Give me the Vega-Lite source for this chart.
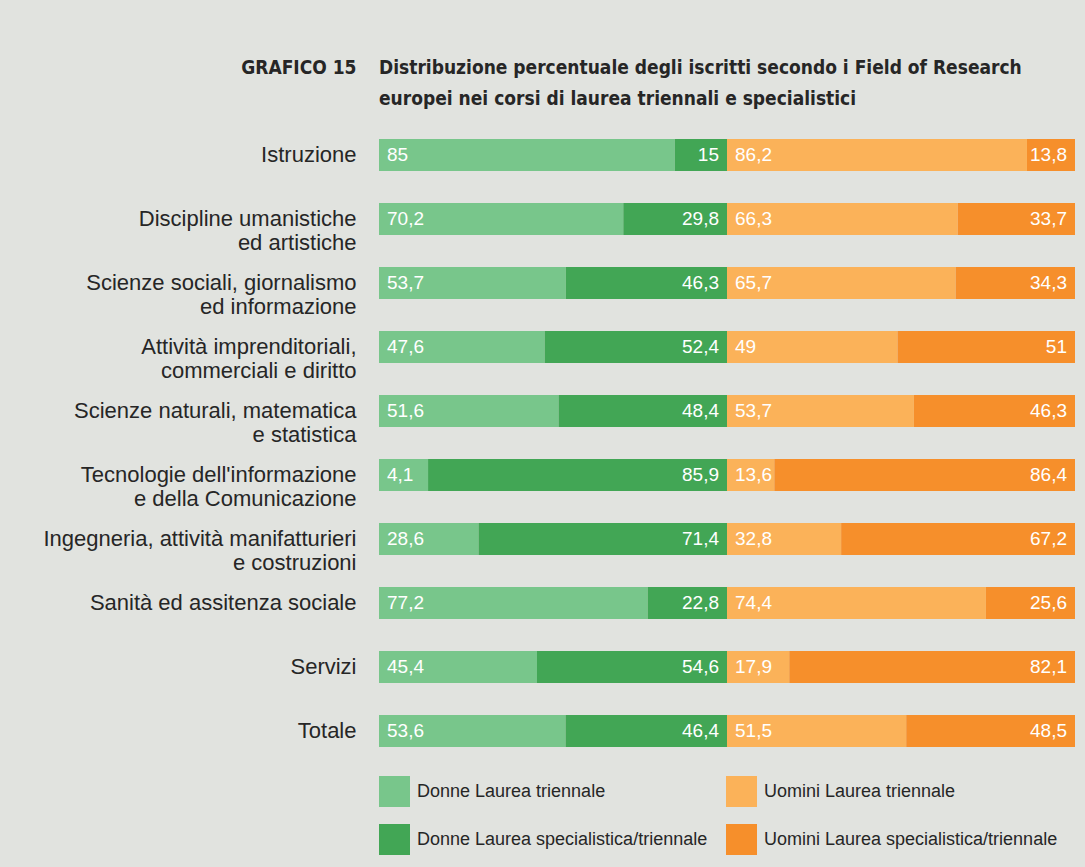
{
  "$schema": "https://vega.github.io/schema/vega-lite/v6.json",
  "width": 696,
  "height": 640,
  "autosize": {"type": "none"},
  "padding": {"left": 379, "top": 123, "right": 10, "bottom": 104},
  "background": "#e1e3df",
  "config": {
    "view": {"stroke": null},
    "font": "Liberation Sans"
  },
  "title": {
    "text": ["Distribuzione percentuale degli iscritti secondo i Field of Research", "europei nei corsi di laurea triennali e specialistici"],
    "anchor": "start",
    "frame": "group",
    "font": "'DejaVu Sans Condensed', sans-serif",
    "fontSize": 19,
    "fontWeight": "bold",
    "color": "#262626",
    "lineHeight": 31,
    "offset": 15,
    "dy": 66
  },
  "data": {
    "values": [
      {"cat": "Istruzione", "serie": "Donne Laurea triennale", "k": 1, "v": 85, "label": "85"},
      {"cat": "Istruzione", "serie": "Donne Laurea specialistica/triennale", "k": 2, "v": 15, "label": "15"},
      {"cat": "Istruzione", "serie": "Uomini Laurea triennale", "k": 3, "v": 86.2, "label": "86,2"},
      {"cat": "Istruzione", "serie": "Uomini Laurea specialistica/triennale", "k": 4, "v": 13.8, "label": "13,8"},
      {"cat": "Discipline umanistiche\ned artistiche", "serie": "Donne Laurea triennale", "k": 1, "v": 70.2, "label": "70,2"},
      {"cat": "Discipline umanistiche\ned artistiche", "serie": "Donne Laurea specialistica/triennale", "k": 2, "v": 29.8, "label": "29,8"},
      {"cat": "Discipline umanistiche\ned artistiche", "serie": "Uomini Laurea triennale", "k": 3, "v": 66.3, "label": "66,3"},
      {"cat": "Discipline umanistiche\ned artistiche", "serie": "Uomini Laurea specialistica/triennale", "k": 4, "v": 33.7, "label": "33,7"},
      {"cat": "Scienze sociali, giornalismo\ned informazione", "serie": "Donne Laurea triennale", "k": 1, "v": 53.7, "label": "53,7"},
      {"cat": "Scienze sociali, giornalismo\ned informazione", "serie": "Donne Laurea specialistica/triennale", "k": 2, "v": 46.3, "label": "46,3"},
      {"cat": "Scienze sociali, giornalismo\ned informazione", "serie": "Uomini Laurea triennale", "k": 3, "v": 65.7, "label": "65,7"},
      {"cat": "Scienze sociali, giornalismo\ned informazione", "serie": "Uomini Laurea specialistica/triennale", "k": 4, "v": 34.3, "label": "34,3"},
      {"cat": "Attività imprenditoriali,\ncommerciali e diritto", "serie": "Donne Laurea triennale", "k": 1, "v": 47.6, "label": "47,6"},
      {"cat": "Attività imprenditoriali,\ncommerciali e diritto", "serie": "Donne Laurea specialistica/triennale", "k": 2, "v": 52.4, "label": "52,4"},
      {"cat": "Attività imprenditoriali,\ncommerciali e diritto", "serie": "Uomini Laurea triennale", "k": 3, "v": 49, "label": "49"},
      {"cat": "Attività imprenditoriali,\ncommerciali e diritto", "serie": "Uomini Laurea specialistica/triennale", "k": 4, "v": 51, "label": "51"},
      {"cat": "Scienze naturali, matematica\ne statistica", "serie": "Donne Laurea triennale", "k": 1, "v": 51.6, "label": "51,6"},
      {"cat": "Scienze naturali, matematica\ne statistica", "serie": "Donne Laurea specialistica/triennale", "k": 2, "v": 48.4, "label": "48,4"},
      {"cat": "Scienze naturali, matematica\ne statistica", "serie": "Uomini Laurea triennale", "k": 3, "v": 53.7, "label": "53,7"},
      {"cat": "Scienze naturali, matematica\ne statistica", "serie": "Uomini Laurea specialistica/triennale", "k": 4, "v": 46.3, "label": "46,3"},
      {"cat": "Tecnologie dell'informazione\ne della Comunicazione", "serie": "Donne Laurea triennale", "k": 1, "v": 14.1, "label": "4,1"},
      {"cat": "Tecnologie dell'informazione\ne della Comunicazione", "serie": "Donne Laurea specialistica/triennale", "k": 2, "v": 85.9, "label": "85,9"},
      {"cat": "Tecnologie dell'informazione\ne della Comunicazione", "serie": "Uomini Laurea triennale", "k": 3, "v": 13.6, "label": "13,6"},
      {"cat": "Tecnologie dell'informazione\ne della Comunicazione", "serie": "Uomini Laurea specialistica/triennale", "k": 4, "v": 86.4, "label": "86,4"},
      {"cat": "Ingegneria, attività manifatturieri\ne costruzioni", "serie": "Donne Laurea triennale", "k": 1, "v": 28.6, "label": "28,6"},
      {"cat": "Ingegneria, attività manifatturieri\ne costruzioni", "serie": "Donne Laurea specialistica/triennale", "k": 2, "v": 71.4, "label": "71,4"},
      {"cat": "Ingegneria, attività manifatturieri\ne costruzioni", "serie": "Uomini Laurea triennale", "k": 3, "v": 32.8, "label": "32,8"},
      {"cat": "Ingegneria, attività manifatturieri\ne costruzioni", "serie": "Uomini Laurea specialistica/triennale", "k": 4, "v": 67.2, "label": "67,2"},
      {"cat": "Sanità ed assitenza sociale", "serie": "Donne Laurea triennale", "k": 1, "v": 77.2, "label": "77,2"},
      {"cat": "Sanità ed assitenza sociale", "serie": "Donne Laurea specialistica/triennale", "k": 2, "v": 22.8, "label": "22,8"},
      {"cat": "Sanità ed assitenza sociale", "serie": "Uomini Laurea triennale", "k": 3, "v": 74.4, "label": "74,4"},
      {"cat": "Sanità ed assitenza sociale", "serie": "Uomini Laurea specialistica/triennale", "k": 4, "v": 25.6, "label": "25,6"},
      {"cat": "Servizi", "serie": "Donne Laurea triennale", "k": 1, "v": 45.4, "label": "45,4"},
      {"cat": "Servizi", "serie": "Donne Laurea specialistica/triennale", "k": 2, "v": 54.6, "label": "54,6"},
      {"cat": "Servizi", "serie": "Uomini Laurea triennale", "k": 3, "v": 17.9, "label": "17,9"},
      {"cat": "Servizi", "serie": "Uomini Laurea specialistica/triennale", "k": 4, "v": 82.1, "label": "82,1"},
      {"cat": "Totale", "serie": "Donne Laurea triennale", "k": 1, "v": 53.6, "label": "53,6"},
      {"cat": "Totale", "serie": "Donne Laurea specialistica/triennale", "k": 2, "v": 46.4, "label": "46,4"},
      {"cat": "Totale", "serie": "Uomini Laurea triennale", "k": 3, "v": 51.5, "label": "51,5"},
      {"cat": "Totale", "serie": "Uomini Laurea specialistica/triennale", "k": 4, "v": 48.5, "label": "48,5"}
    ]
  },
  "transform": [
    {"stack": "v", "groupby": ["cat"], "sort": [{"field": "k", "order": "ascending"}], "as": ["x0", "x1"]}
  ],
  "encoding": {
    "y": {
      "field": "cat",
      "type": "nominal",
      "sort": null,
      "scale": {"paddingInner": 0.5, "paddingOuter": 0.25},
      "axis": {
        "title": "GRAFICO 15",
        "titleAngle": 0,
        "titleX": -23,
        "titleY": -50,
        "titleAlign": "right",
        "titleBaseline": "alphabetic",
        "titleFont": "'DejaVu Sans Condensed', sans-serif",
        "titleFontSize": 19,
        "titleFontWeight": "bold",
        "titleColor": "#262626",
        "domain": false,
        "ticks": false,
        "grid": false,
        "labelPadding": 23,
        "labelFont": "Liberation Sans",
        "labelFontSize": 22,
        "labelColor": "#262626",
        "labelLimit": 400,
        "labelLineHeight": 24,
        "labelExpr": "split(datum.label, '\\n')"
      }
    }
  },
  "layer": [
    {
      "mark": {"type": "bar", "stroke": null},
      "encoding": {
        "x": {"field": "x0", "type": "quantitative", "scale": {"domain": [0, 200], "nice": false, "zero": false}, "axis": null},
        "x2": {"field": "x1"},
        "color": {
          "field": "serie",
          "type": "nominal",
          "scale": {
            "domain": ["Donne Laurea triennale", "Uomini Laurea triennale", "Donne Laurea specialistica/triennale", "Uomini Laurea specialistica/triennale"],
            "range": ["#78c68b", "#fbb259", "#42a655", "#f68f2b"]
          },
          "legend": {
            "title": null,
            "orient": "none",
            "legendX": 0,
            "legendY": 653,
            "columns": 2,
            "direction": "horizontal",
            "padding": 0,
            "symbolType": "square",
            "symbolSize": 961,
            "symbolStrokeWidth": 0,
            "symbolOpacity": 1,
            "labelOffset": 7,
            "labelFont": "Liberation Sans",
            "labelFontSize": 18,
            "labelColor": "#262626",
            "labelLimit": 500,
            "rowPadding": 17,
            "columnPadding": 18
          }
        }
      }
    },
    {
      "transform": [{"filter": "datum.k == 1 || datum.k == 3"}],
      "mark": {"type": "text", "align": "left", "baseline": "middle", "dx": 8, "color": "white", "font": "Liberation Sans", "fontSize": 19},
      "encoding": {
        "x": {"field": "x0", "type": "quantitative"},
        "text": {"field": "label"}
      }
    },
    {
      "transform": [{"filter": "datum.k == 2 || datum.k == 4"}],
      "mark": {"type": "text", "align": "right", "baseline": "middle", "dx": -8, "color": "white", "font": "Liberation Sans", "fontSize": 19},
      "encoding": {
        "x": {"field": "x1", "type": "quantitative"},
        "text": {"field": "label"}
      }
    }
  ]
}
